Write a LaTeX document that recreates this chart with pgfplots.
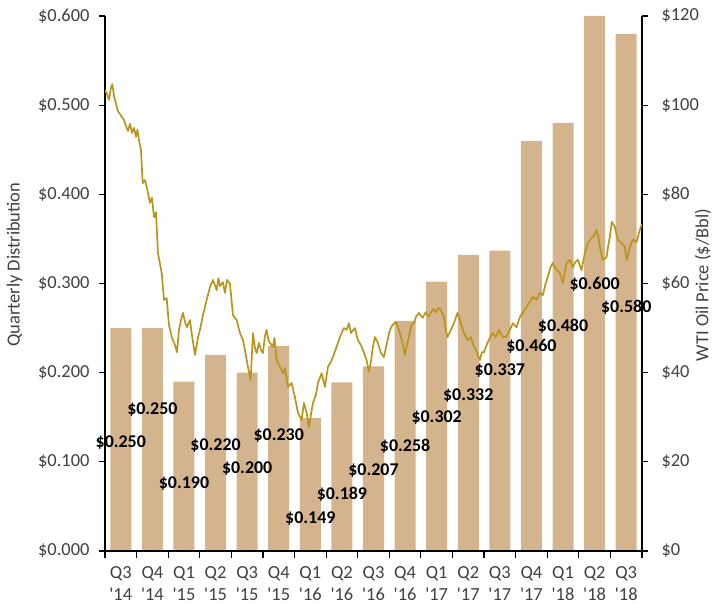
\documentclass[border=0pt]{standalone}
\usepackage{pgfplots}
\pgfplotsset{compat=1.18}
\usepackage{pgfplotstable}
\usepackage{fontspec}
\setmainfont{Carlito}

\definecolor{bartan}{RGB}{212,180,140}
\definecolor{oilgold}{RGB}{184,150,30}
\definecolor{tickgray}{RGB}{64,64,64}

% quarterly distribution per unit; ly = height at which the value label sits
\pgfplotstableread{
x  val    ly
0  0.250  0.122
1  0.250  0.159
2  0.190  0.076
3  0.220  0.118
4  0.200  0.092
5  0.230  0.130
6  0.149  0.036
7  0.189  0.064
8  0.207  0.090
9  0.258  0.118
10 0.302  0.150
11 0.332  0.174
12 0.337  0.202
13 0.460  0.229
14 0.480  0.252
15 0.600  0.299
16 0.580  0.273
}\distr

% WTI spot price, t in quarters (0 = Q3 '14)
\pgfplotstableread{
t price
-0.500 103.4
-0.437 102.5
-0.373 101.2
-0.310 103.9
-0.269 104.7
-0.215 102.1
-0.152 100.3
-0.089 98.6
-0.025 98.0
0.038 97.3
0.101 96.7
0.165 95.3
0.228 94.2
0.291 95.8
0.354 93.8
0.418 94.9
0.481 92.9
0.528 94.5
0.576 92.2
0.639 89.9
0.693 82.5
0.766 83.2
0.829 81.4
0.924 78.1
0.987 79.2
1.051 74.9
1.114 76.0
1.177 66.8
1.294 62.4
1.367 56.3
1.453 56.7
1.525 50.7
1.620 47.8
1.715 46.2
1.778 44.6
1.842 49.6
1.905 51.8
1.968 53.4
2.032 51.4
2.095 50.2
2.190 51.8
2.253 48.4
2.348 44.0
2.443 47.8
2.506 49.6
2.601 52.9
2.718 56.3
2.823 59.2
2.918 60.8
3.035 58.5
3.092 61.2
3.139 59.4
3.234 60.3
3.297 57.9
3.361 60.8
3.456 59.9
3.551 52.9
3.668 51.8
3.772 48.9
3.867 47.3
3.930 45.1
4.025 41.3
4.111 38.4
4.184 48.9
4.247 45.5
4.301 44.4
4.373 46.7
4.437 45.1
4.500 44.4
4.563 48.2
4.617 49.6
4.674 47.3
4.722 46.7
4.816 45.8
4.864 47.8
4.934 42.8
5.038 41.3
5.133 39.9
5.196 41.0
5.291 36.8
5.408 37.7
5.513 34.5
5.608 31.0
5.725 29.4
5.797 33.2
5.883 31.0
5.956 27.8
6.019 30.5
6.082 33.2
6.177 35.0
6.241 37.7
6.358 39.9
6.462 36.8
6.557 41.3
6.652 42.4
6.715 43.5
6.832 45.8
6.905 47.3
6.991 48.9
7.063 50.0
7.149 49.6
7.222 51.1
7.285 48.9
7.411 50.0
7.506 47.3
7.601 46.2
7.665 45.1
7.782 42.8
7.854 40.2
7.918 42.4
7.981 45.8
8.044 48.0
8.139 46.7
8.234 44.4
8.329 43.5
8.446 47.3
8.519 49.6
8.604 50.7
8.709 51.4
8.804 49.6
8.921 46.7
8.994 44.0
9.057 46.2
9.120 48.0
9.200 50.7
9.278 51.1
9.358 52.7
9.437 53.4
9.554 52.3
9.658 53.6
9.737 52.5
9.816 53.4
9.896 54.3
9.975 53.6
10.054 54.5
10.133 54.1
10.228 52.5
10.291 49.6
10.345 48.0
10.449 49.6
10.544 51.1
10.661 53.4
10.766 51.1
10.861 48.9
10.978 47.3
11.082 48.0
11.161 46.2
11.241 45.1
11.304 44.0
11.367 42.8
11.430 44.6
11.494 44.6
11.611 46.7
11.684 47.8
11.769 48.9
11.873 48.0
11.968 49.6
12.085 48.0
12.190 48.0
12.285 49.1
12.411 51.1
12.529 50.2
12.633 52.5
12.744 53.6
12.845 54.7
12.949 55.9
13.044 57.0
13.161 56.3
13.266 57.9
13.361 57.4
13.440 59.7
13.519 61.5
13.598 63.5
13.677 64.6
13.794 63.0
13.899 62.4
13.994 60.1
14.111 64.6
14.215 65.3
14.310 63.7
14.389 64.8
14.468 65.3
14.585 63.0
14.690 66.8
14.785 69.1
14.902 70.2
14.975 70.7
15.060 72.0
15.117 70.4
15.165 68.2
15.259 65.3
15.377 65.9
15.434 68.6
15.481 70.4
15.544 73.8
15.592 73.3
15.639 72.7
15.734 69.8
15.851 69.1
15.956 68.2
16.019 65.3
16.136 68.6
16.209 69.8
16.326 69.3
16.430 72.0
16.494 73.3
}\wti

\begin{document}
\begin{tikzpicture}
\useasboundingbox (-105bp,-53bp) rectangle (611bp,551bp);
\pgfplotsset{
  base/.style={
    at={(0,0)}, anchor=south west,
    scale only axis, width=537bp, height=535bp,
    xmin=-0.5, xmax=16.5,
    font=\fontsize{18.5}{22}\selectfont,
    tick label style={text=tickgray},
    axis line style={line width=1.2bp, black},
    tick style={line width=1.2bp, black},
    tick align=outside,
    major tick length=6bp,
  }
}
% bars: quarterly distribution on the left scale
\begin{axis}[base,
  ymin=0, ymax=0.6,
  axis x line*=bottom, axis y line*=left, axis on top,
  xtick={0,...,16},
  xticklabels={{Q3\\\textquotesingle14},{Q4\\\textquotesingle14},
    {Q1\\\textquotesingle15},{Q2\\\textquotesingle15},{Q3\\\textquotesingle15},{Q4\\\textquotesingle15},
    {Q1\\\textquotesingle16},{Q2\\\textquotesingle16},{Q3\\\textquotesingle16},{Q4\\\textquotesingle16},
    {Q1\\\textquotesingle17},{Q2\\\textquotesingle17},{Q3\\\textquotesingle17},{Q4\\\textquotesingle17},
    {Q1\\\textquotesingle18},{Q2\\\textquotesingle18},{Q3\\\textquotesingle18}},
  xticklabel style={align=center, yshift=-6bp},
  yticklabel style={xshift=-6bp},
  major x tick style={draw=none},
  minor xtick={-0.5,0.5,...,16.5},
  minor tick length=7bp,
  ytick={0,0.1,0.2,0.3,0.4,0.5,0.6},
  yticklabels={\$0.000,\$0.100,\$0.200,\$0.300,\$0.400,\$0.500,\$0.600},
  ylabel={Quarterly Distribution},
  every axis y label/.style={at={(axis description cs:-0.168,0.535)},
    rotate=90, anchor=center, text=tickgray},
]
\addplot[ybar, bar width=0.665, fill=bartan, draw=none] table[x=x, y=val]{\distr};
\end{axis}

% line: WTI oil price on the right scale
\begin{axis}[base,
  ymin=0, ymax=120,
  axis x line=none, axis y line*=right,
  ytick={0,20,40,60,80,100,120},
  yticklabels={\$0,\$20,\$40,\$60,\$80,\$100,\$120},
  yticklabel style={xshift=10bp},
  ylabel={WTI Oil Price (\$/Bbl)},
  every axis y label/.style={at={(axis description cs:1.1136,0.497)},
    rotate=90, anchor=center, text=tickgray},
]
\addplot[oilgold, line width=1.7bp, line join=round] table[x=t, y=price]{\wti};
\end{axis}

% value labels, drawn last so they sit above the bars and the line
\begin{axis}[base, ymin=0, ymax=0.6, hide axis]
\addplot[draw=none, mark=none,
  point meta=explicit symbolic,
  nodes near coords={\$\pgfplotspointmeta},
  nodes near coords align=center,
  every node near coord/.append style={anchor=center,
    font=\fontsize{18}{22}\selectfont\bfseries, text=black}]
  table[x=x, y=ly, meta=val]{\distr};
\end{axis}
\end{tikzpicture}
\end{document}
